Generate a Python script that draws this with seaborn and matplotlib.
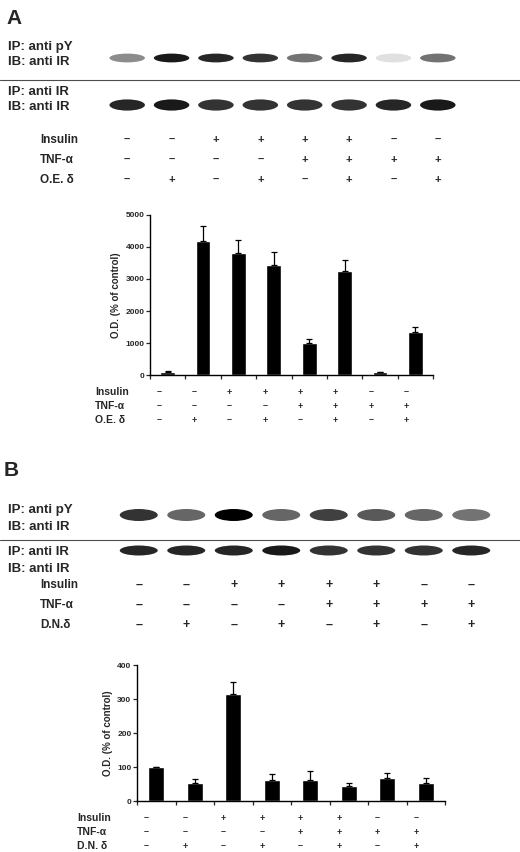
import numpy as np
import pandas as pd
import matplotlib
matplotlib.use("Agg")
import matplotlib.pyplot as plt
import matplotlib.transforms as mtransforms
from matplotlib.patches import Ellipse
import seaborn as sns

sns.set_style("white")
plt.rcParams['font.family'] = ['Liberation Sans', 'DejaVu Sans']

# =====================
# DATA
# =====================
lanes = list(range(1, 9))
insulin = ['–', '–', '+', '+', '+', '+', '–', '–']
tnf = ['–', '–', '–', '–', '+', '+', '+', '+']
delta = ['–', '+', '–', '+', '–', '+', '–', '+']

od_a = [90, 4200, 3800, 3450, 1000, 3250, 90, 1350]
err_a = [20, 470, 420, 400, 120, 350, 15, 150]
od_b = [100, 52, 315, 63, 62, 45, 68, 52]
err_b = [0, 12, 35, 15, 27, 9, 14, 17]

# band darkness (0 = none, 1 = black)
band_a_py = [0.45, 0.9, 0.85, 0.8, 0.55, 0.85, 0.12, 0.55]
band_a_ir = [0.85, 0.9, 0.8, 0.8, 0.8, 0.8, 0.85, 0.9]
band_b_py = [0.8, 0.6, 1.0, 0.6, 0.75, 0.65, 0.6, 0.55]
band_b_ir = [0.85, 0.85, 0.85, 0.9, 0.8, 0.8, 0.8, 0.85]

W, H = 520, 852
fig = plt.figure(figsize=(5.2, 8.52), dpi=100)


def px(x0, y0, x1, y1):
    return fig.add_axes([x0 / W, 1 - y1 / H, (x1 - x0) / W, (y1 - y0) / H])


def blot(x0, y0, x1, y1, levels, height):
    ax = px(x0, y0, x1, y1)
    ax.set_xlim(0.5, 8.5)
    ax.set_ylim(0, 1)
    for lane, lv in zip(lanes, levels):
        g = 1 - lv
        ax.add_patch(Ellipse((lane, 0.5), 0.8, height, color=(g, g, g), lw=0))
    ax.axis('off')
    return ax


def sign_rows(x0, y0, x1, y1, rows, fs):
    ax = px(x0, y0, x1, y1)
    ax.set_xlim(0.5, 8.5)
    ax.set_ylim(len(rows) - 0.5, -0.5)
    for r, vals in enumerate(rows):
        for lane, s in zip(lanes, vals):
            ax.text(lane, r, s, ha='center', va='center', fontsize=fs, fontweight='bold')
    ax.axis('off')
    return ax


def bars(x0, y0, x1, y1, vals, errs, ymax, step, ylab, names, rows, fs):
    ax = px(x0, y0, x1, y1)
    df = pd.DataFrame({'lane': lanes, 'od': vals})
    sns.barplot(data=df, x='lane', y='od', color='black', width=0.42,
                errorbar=None, ax=ax)
    ax.errorbar(range(8), vals, yerr=[np.zeros(8), errs], fmt='none',
                ecolor='black', elinewidth=0.9, capsize=2, capthick=0.9)
    ax.set_ylim(0, ymax)
    ax.set_yticks(np.arange(0, ymax + 1, step))
    ax.set_xlim(-0.5, 7.5)
    ax.set_xticks(np.arange(-0.5, 8, 1))
    ax.set_xticklabels([])
    ax.tick_params(axis='both', direction='out', length=3, width=0.9,
                   labelsize=6, bottom=True, left=True, pad=1)
    for t in ax.get_yticklabels():
        t.set_fontweight('bold')
    ax.set_xlabel('')
    ax.set_ylabel(ylab, fontsize=7, fontweight='bold', labelpad=3)
    for s in ['top', 'right']:
        ax.spines[s].set_visible(False)
    for s in ['left', 'bottom']:
        ax.spines[s].set_linewidth(1.0)
        ax.spines[s].set_color('black')
    tr = mtransforms.blended_transform_factory(ax.transData, ax.transAxes)
    dy = 14 / (y1 - y0)
    for r, vals_r in enumerate(rows):
        yy = -17 / (y1 - y0) - r * dy
        ax.text(-2.05, yy, names[r], transform=tr, fontsize=fs + 1, fontweight='bold',
                va='center', ha='left')
        for i, s in enumerate(vals_r):
            ax.text(i - 0.25, yy, s, transform=tr, ha='center', va='center',
                    fontsize=fs, fontweight='bold')
    return ax


def label_text(x, y, s, fs=9.5):
    fig.text(x / W, 1 - y / H, s, fontsize=fs, fontweight='bold', va='center')


# =====================
# PANEL A
# =====================
label_text(6, 18, 'A', 15)
blot(105, 38, 460, 78, band_a_py, 0.22)
label_text(8, 47, 'IP: anti pY')
label_text(8, 62, 'IB: anti IR')
fig.add_artist(plt.Line2D([0, 1], [1 - 80 / H] * 2, color='0.3', lw=0.8))
blot(105, 85, 460, 125, band_a_ir, 0.28)
label_text(8, 92, 'IP: anti IR')
label_text(8, 107, 'IB: anti IR')
for i, n in enumerate(['Insulin', 'TNF-α', 'O.E. δ']):
    label_text(40, 140 + 20 * i, n, 8.5)
sign_rows(105, 130, 460, 190, [insulin, tnf, delta], 8)

bars(150, 215, 433, 375, od_a, err_a, 5000, 1000, 'O.D. (% of control)',
     ['Insulin', 'TNF-α', 'O.E. δ'], [insulin, tnf, delta], 6.5)

# =====================
# PANEL B
# =====================
label_text(4, 470, 'B', 15)
blot(115, 495, 495, 535, band_b_py, 0.3)
label_text(8, 510, 'IP: anti pY')
label_text(8, 527, 'IB: anti IR')
fig.add_artist(plt.Line2D([0, 1], [1 - 540 / H] * 2, color='0.3', lw=0.8))
blot(115, 538, 495, 563, band_b_ir, 0.4)
label_text(8, 552, 'IP: anti IR')
label_text(8, 569, 'IB: anti IR')
for i, n in enumerate(['Insulin', 'TNF-α', 'D.N.δ']):
    label_text(40, 585 + 20 * i, n, 8.5)
sign_rows(115, 575, 495, 635, [insulin, tnf, delta], 9)

bars(137, 665, 445, 801, od_b, err_b, 400, 100, 'O.D. (% of control)',
     ['Insulin', 'TNF-α', 'D.N. δ'], [insulin, tnf, delta], 6.5)

fig.savefig('out.png', dpi=100)
